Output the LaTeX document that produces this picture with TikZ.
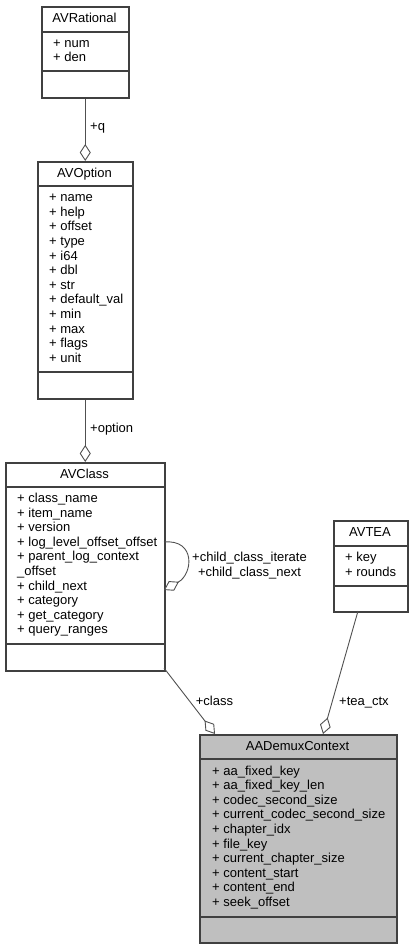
\documentclass[tikz,border=0pt]{standalone}
\usepackage{fontspec}
\setmainfont{Liberation Sans}
\usetikzlibrary{arrows.meta}
\definecolor{edgec}{HTML}{404040}
\definecolor{linkc}{HTML}{505050}
\definecolor{hdr}{HTML}{BFBFBF}
\begin{document}
\begin{tikzpicture}[x=1pt,y=-1pt,
  font=\fontsize{13}{14.6}\selectfont,
  box/.style={draw=edgec, line width=1.5pt, fill=white, inner sep=0pt, anchor=north west},
  sepline/.style={draw=edgec, line width=1.1pt},
  ttl/.style={anchor=base, inner sep=0pt},
  mem/.style={anchor=base west, inner sep=0pt},
  lbl/.style={anchor=base west, inner sep=0pt},
  link/.style={draw=linkc, line width=0.9pt, -{Diamond[length=17pt,width=11pt,fill=white,line width=0.9pt]}}
]
\useasboundingbox (0,0) rectangle (412,948);

% AVRational
\node[box, minimum width=87, minimum height=91] (avr) at (41,6) {};
\draw[sepline] (41,32) -- (128,32);
\draw[sepline] (41,71) -- (128,71);
\node[ttl] (avrT) at (84.5,22.5) {AVRational};
\foreach \t [count=\i from 0] in {num,den}
  \node[mem] (avrM\i) at (53,{47+\i*14.6}) {+ \t};

% AVOption
\node[box, minimum width=95, minimum height=237] (avo) at (37,161) {};
\draw[sepline] (37,186) -- (132,186);
\draw[sepline] (37,372) -- (132,372);
\node[ttl] (avoT) at (84.5,177.3) {AVOption};
\foreach \t [count=\i from 0] in {name,help,offset,type,i64,dbl,str,default\_val,min,max,flags,unit}
  \node[mem] (avoM\i) at (49,{201.7+\i*14.6}) {+ \t};

% AVClass
\node[box, minimum width=159, minimum height=208] (avc) at (5,462) {};
\draw[sepline] (5,487) -- (164,487);
\draw[sepline] (5,644) -- (164,644);
\node[ttl] (avcT) at (84.5,478) {AVClass};
\foreach \t [count=\i from 0] in {+ class\_name,+ item\_name,+ version,+ log\_level\_offset\_offset,+ parent\_log\_context,\_offset,+ child\_next,+ category,+ get\_category,+ query\_ranges}
  \node[mem] (avcM\i) at (17,{502.5+\i*14.6}) {\t};

% AVTEA
\node[box, minimum width=74, minimum height=91] (tea) at (333,520) {};
\draw[sepline] (333,546) -- (407,546);
\draw[sepline] (333,586) -- (407,586);
\node[ttl] (teaT) at (370,536.5) {AVTEA};
\foreach \t [count=\i from 0] in {key,rounds}
  \node[mem] (teaM\i) at (345,{561.5+\i*14.6}) {+ \t};

% AADemuxContext
\node[box, fill=hdr, minimum width=197, minimum height=208] (adc) at (199,734) {};
\draw[sepline] (199,759) -- (396,759);
\draw[sepline] (199,917) -- (396,917);
\node[ttl] (adcT) at (297.5,750.3) {AADemuxContext};
\foreach \t [count=\i from 0] in {aa\_fixed\_key,aa\_fixed\_key\_len,codec\_second\_size,current\_codec\_second\_size,chapter\_idx,file\_key,current\_chapter\_size,content\_start,content\_end,seek\_offset}
  \node[mem] (adcM\i) at (212,{775+\i*14.6}) {+ \t};

% connection points
\coordinate (avcLoopA) at (164,542);
\coordinate (avcLoopB) at (164,590);
\coordinate (avcCorner) at (164,668);
\coordinate (adcA) at (215,734);
\coordinate (teaS) at (358,611);
\coordinate (adcB) at (323,734);

% connectors
\draw[link] (avr.south) -- (avo.north);
\node[lbl] (lq) at (90,130.5) {+q};
\draw[link] (avo.south) -- (avc.north);
\node[lbl] (lopt) at (90,432.3) {+option};
\draw[link] (avcLoopA) .. controls (196,539) and (193,574) .. (avcLoopB);
\node[anchor=base, inner sep=0pt, align=center] (lchild) at (249.5,561.7) {+child\_class\_iterate};
\node[anchor=base, inner sep=0pt] (lchild2) at (249.5,576.5) {+child\_class\_next};
\draw[link] (avcCorner) -- (adcA);
\node[lbl] (lclass) at (195.7,705) {+class};
\draw[link] (teaS) -- (adcB);
\node[lbl] (ltea) at (339,705) {+tea\_ctx};
\end{tikzpicture}
\end{document}
